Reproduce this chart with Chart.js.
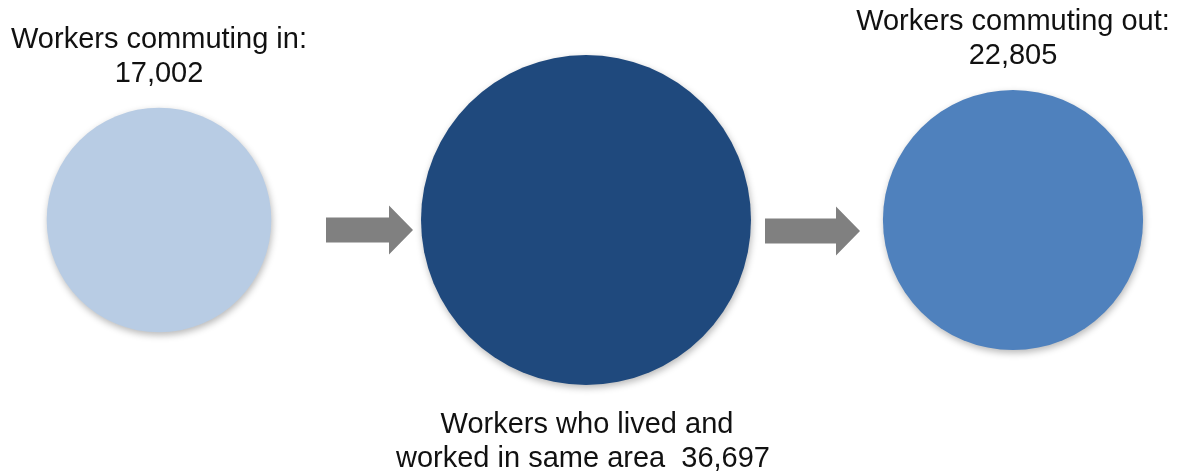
<!DOCTYPE html>
<html lang="en">
<head>
    <meta charset="UTF-8">
    <title>Commuting Flows</title>
    <style>
        body {
            margin: 0;
            background-color: #ffffff;
        }
        #wrap {
            width: 1177px;
            height: 474px;
        }
    </style>
</head>
<body>
    <div id="wrap">
        <canvas id="flowChart" width="1177" height="474"></canvas>
    </div>

    <script src="https://cdn.jsdelivr.net/npm/chart.js"></script>
    <script>
        // Data
        const categories = ['Workers commuting in', 'Workers who lived and worked in same area', 'Workers commuting out'];
        const workers = [17002, 36697, 22805];
        const bubbleColors = ['#B8CCE4', '#1F497D', '#4F81BD'];

        const fmt = n => n.toLocaleString('en-US');
        const labelLines = [
            ['Workers commuting in:', fmt(workers[0])],
            ['Workers who lived and', 'worked in same area  ' + fmt(workers[1])],
            ['Workers commuting out:', fmt(workers[2])]
        ];

        // Circle area is proportional to the number of workers
        const maxRadius = 165;
        const maxWorkers = Math.max(...workers);
        const bubbles = workers.map((v, i) => ({
            x: categories[i],
            y: 0,
            r: maxRadius * Math.sqrt(v / maxWorkers)
        }));

        // Shadow under circles
        const shadowPlugin = {
            id: 'shadow',
            beforeDatasetsDraw(chart) {
                const ctx = chart.ctx;
                ctx.save();
                ctx.shadowColor = 'rgba(0, 0, 0, 0.28)';
                ctx.shadowBlur = 7;
                ctx.shadowOffsetX = 1;
                ctx.shadowOffsetY = 3;
            },
            afterDatasetsDraw(chart) {
                chart.ctx.restore();
            }
        };

        // Grey arrows and text labels
        const decorPlugin = {
            id: 'decor',
            afterDatasetsDraw(chart) {
                const ctx = chart.ctx;
                const pts = chart.getDatasetMeta(0).data;

                const arrows = [
                    { x0: 326, x1: 413, y: 230 },
                    { x0: 765, x1: 860, y: 231 }
                ];
                ctx.save();
                ctx.fillStyle = '#808080';
                arrows.forEach(a => {
                    const head = 24, shaftH = 12.5, headH = 24.5;
                    ctx.beginPath();
                    ctx.moveTo(a.x0, a.y - shaftH);
                    ctx.lineTo(a.x1 - head, a.y - shaftH);
                    ctx.lineTo(a.x1 - head, a.y - headH);
                    ctx.lineTo(a.x1, a.y);
                    ctx.lineTo(a.x1 - head, a.y + headH);
                    ctx.lineTo(a.x1 - head, a.y + shaftH);
                    ctx.lineTo(a.x0, a.y + shaftH);
                    ctx.closePath();
                    ctx.fill();
                });

                ctx.fillStyle = '#111111';
                ctx.font = '29px "Liberation Sans", Arial, sans-serif';
                ctx.textAlign = 'center';
                ctx.textBaseline = 'alphabetic';
                const lineGap = 34;

                // top labels for the outer circles
                [0, 2].forEach(i => {
                    const p = pts[i];
                    const r = bubbles[i].r;
                    const base2 = p.y - r - 26;
                    ctx.fillText(labelLines[i][0], p.x, base2 - lineGap);
                    ctx.fillText(labelLines[i][1], p.x, base2);
                });

                // bottom label for the middle circle
                const pm = pts[1];
                const base1 = pm.y + bubbles[1].r + 48;
                ctx.fillText(labelLines[1][0], pm.x + 1, base1);
                ctx.fillText(labelLines[1][1], pm.x - 3, base1 + lineGap);
                ctx.restore();
            }
        };

        const ctx = document.getElementById('flowChart').getContext('2d');
        new Chart(ctx, {
            type: 'bubble',
            data: {
                labels: categories,
                datasets: [{
                    label: 'Workers',
                    data: bubbles,
                    backgroundColor: bubbleColors,
                    borderWidth: 0,
                    hoverRadius: 0,
                    clip: false
                }]
            },
            options: {
                responsive: false,
                animation: false,
                events: [],
                layout: {
                    autoPadding: false,
                    padding: { left: 159, right: 164, top: 0, bottom: 34 }
                },
                scales: {
                    x: {
                        type: 'category',
                        offset: false,
                        display: false
                    },
                    y: {
                        type: 'linear',
                        min: -1,
                        max: 1,
                        display: false
                    }
                },
                plugins: {
                    legend: { display: false },
                    tooltip: { enabled: false }
                }
            },
            plugins: [shadowPlugin, decorPlugin]
        });
    </script>
</body>
</html>
